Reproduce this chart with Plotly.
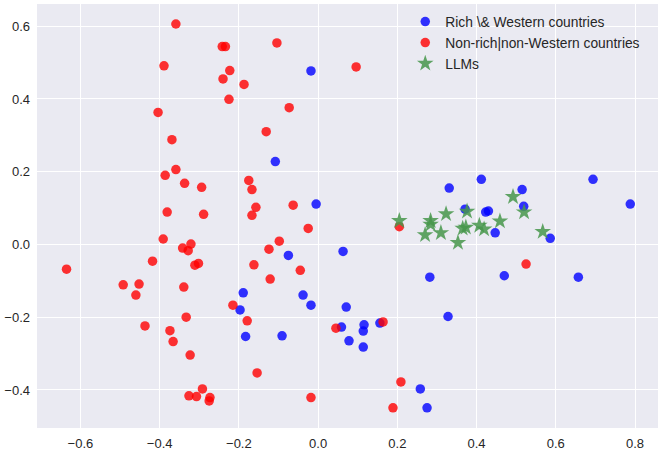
import plotly.graph_objects as go

# Rich & Western countries
rich_x = [-0.018, -0.108, -0.005, -0.075, -0.189, -0.038, -0.018, -0.197, -0.183, -0.091,
          0.063, 0.071, 0.059, 0.116, 0.114, 0.078, 0.114, 0.156, 0.282, 0.258,
          0.275, 0.331, 0.412, 0.515, 0.371, 0.423, 0.430, 0.519, 0.447, 0.586,
          0.470, 0.657, 0.694, 0.788, 0.328]
rich_y = [0.477, 0.228, 0.111, -0.030, -0.133, -0.139, -0.167, -0.180, -0.253, -0.251,
          -0.019, -0.172, -0.227, -0.221, -0.238, -0.265, -0.282, -0.216, -0.090, -0.397,
          -0.449, 0.155, 0.179, 0.151, 0.097, 0.089, 0.092, 0.105, 0.032, 0.017,
          -0.086, -0.090, 0.179, 0.111, -0.198]

# Non-rich | non-Western countries
nonrich_x = [-0.359, -0.242, -0.234, -0.389, -0.223, -0.240, -0.187, -0.225, -0.404, -0.369,
             -0.359, -0.386, -0.337, -0.294, -0.175, -0.167, -0.157, -0.167, -0.381, -0.289,
             -0.635, -0.391, -0.342, -0.321, -0.328, -0.418, -0.311, -0.302, -0.492, -0.452,
             -0.460, -0.339, -0.215, -0.333, -0.437, -0.374, -0.366, -0.323, -0.292, -0.326,
             -0.307, -0.273, -0.275, -0.179, -0.104, 0.096, -0.073, -0.131, -0.063, -0.025,
             -0.098, -0.124, -0.162, -0.045, -0.121, -0.154, -0.018, 0.045, 0.164, 0.209,
             0.189, 0.205, 0.525]
nonrich_y = [0.606, 0.544, 0.544, 0.491, 0.478, 0.455, 0.440, 0.399, 0.363, 0.288,
             0.206, 0.190, 0.168, 0.157, 0.176, 0.151, 0.102, 0.080, 0.089, 0.083,
             -0.068, 0.015, -0.010, 0.001, -0.017, -0.046, -0.057, -0.052, -0.111, -0.109,
             -0.139, -0.117, -0.167, -0.200, -0.224, -0.237, -0.267, -0.304, -0.397, -0.416,
             -0.418, -0.421, -0.430, -0.210, 0.554, 0.488, 0.376, 0.310, 0.108, 0.044,
             0.009, -0.013, -0.056, -0.071, -0.095, -0.353, -0.421, -0.230, -0.213, -0.378,
             -0.449, 0.049, -0.054]

# LLMs
llm_x = [0.205, 0.284, 0.284, 0.270, 0.310, 0.323, 0.376, 0.353, 0.365, 0.373,
         0.407, 0.419, 0.459, 0.492, 0.520, 0.567]
llm_y = [0.065, 0.065, 0.055, 0.026, 0.032, 0.084, 0.091, 0.005, 0.044, 0.047,
         0.052, 0.042, 0.064, 0.131, 0.089, 0.035]

x_ticks = [-0.6, -0.4, -0.2, 0.0, 0.2, 0.4, 0.6, 0.8]
y_ticks = [-0.4, -0.2, 0.0, 0.2, 0.4, 0.6]

fig = go.Figure()
fig.add_trace(go.Scatter(x=rich_x, y=rich_y, mode="markers", name="Rich \\& Western countries",
                         marker=dict(color="rgba(0,0,255,0.8)", size=9.5, line=dict(width=0))))
fig.add_trace(go.Scatter(x=nonrich_x, y=nonrich_y, mode="markers", name="Non-rich|non-Western countries",
                         marker=dict(color="rgba(255,0,0,0.8)", size=9.5, line=dict(width=0))))
fig.add_trace(go.Scatter(x=llm_x, y=llm_y, mode="markers", name="LLMs",
                         marker=dict(color="rgba(70,150,75,0.85)", size=12.5, symbol="star", line=dict(width=0))))

axis_font = dict(family="Liberation Sans, Arial, sans-serif", size=13, color="#262626")
fig.update_layout(
    width=662, height=459,
    margin=dict(l=37, r=4, t=4, b=31),
    paper_bgcolor="white",
    plot_bgcolor="#EAEAF2",
    font=axis_font,
    showlegend=True,
    legend=dict(x=0.593, y=0.995, xanchor="left", yanchor="top", bgcolor="rgba(0,0,0,0)",
                font=dict(family="Liberation Sans, Arial, sans-serif", size=13.8, color="#262626"),
                itemwidth=30, tracegroupgap=0),
    xaxis=dict(range=[-0.7096, 0.858], tickvals=x_ticks, tickformat=".1f", automargin=False,
               showgrid=True, gridcolor="white", gridwidth=1.3, zeroline=False,
               showline=False, ticks="", ticklabelstandoff=6),
    yaxis=dict(range=[-0.5045, 0.661], tickvals=y_ticks, tickformat=".1f", automargin=False,
               showgrid=True, gridcolor="white", gridwidth=1.3, zeroline=False,
               showline=False, ticks="", ticklabelstandoff=6),
)
fig.write_html("out.html", config={"displayModeBar": False},
               post_script="document.body.style.margin='0';document.body.style.overflow='hidden';")
